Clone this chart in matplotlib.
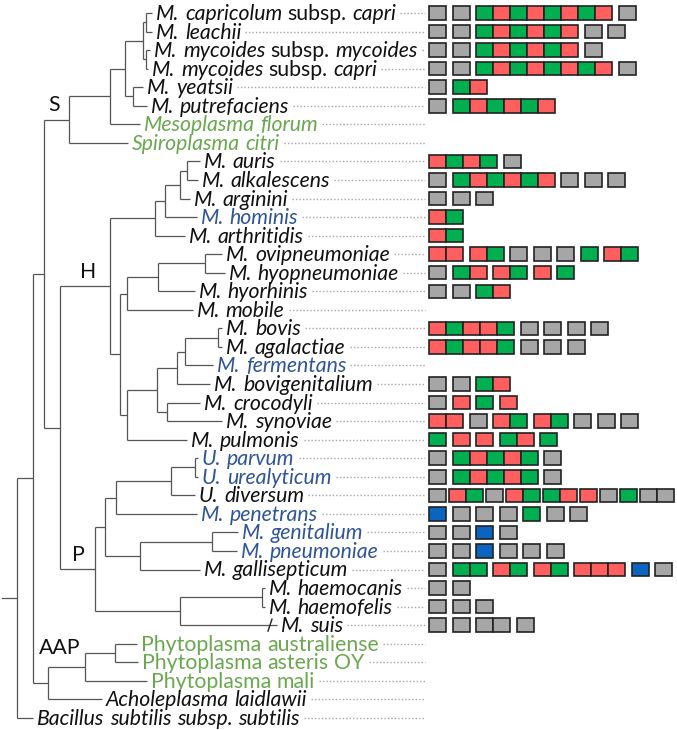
"""
Phylogenetic tree of mollicutes with gene-cluster boxes drawn next to each taxon.
"""

import matplotlib
matplotlib.use('Agg')
import matplotlib.pyplot as plt
from matplotlib.patches import Rectangle

# Taxa, top to bottom. Words inside {} are upright, the rest italic.
taxa = [
    "M. capricolum {subsp.} capri", "M. leachii", "M. mycoides {subsp.} mycoides",
    "M. mycoides {subsp.} capri", "M. yeatsii", "M. putrefaciens", "Mesoplasma florum",
    "Spiroplasma citri", "M. auris", "M. alkalescens", "M. arginini", "M. hominis",
    "M. arthritidis", "M. ovipneumoniae", "M. hyopneumoniae", "M. hyorhinis", "M. mobile",
    "M. bovis", "M. agalactiae", "M. fermentans", "M. bovigenitalium", "M. crocodyli",
    "M. synoviae", "M. pulmonis", "U. parvum", "U. urealyticum", "U. diversum",
    "M. penetrans", "M. genitalium", "M. pneumoniae", "M. gallisepticum", "M. haemocanis",
    "M. haemofelis", "M. suis", "{Phytoplasma australiense}", "{Phytoplasma asteris OY}",
    "{Phytoplasma mali}", "Acholeplasma laidlawii", "Bacillus subtilis subsp. subtilis",
]

# label colour group: k = black, g = green, b = blue
taxa_colour = list("kkkkkkggkkkbkkkkkkkbkkkkbbkbbbkkkkgggkk")

# tip depth of each leaf branch
tip_x = [152, 152, 150, 148, 143, 147, 140, 128, 200, 198, 190, 197, 185, 222, 225, 195,
         193, 222, 222, 213, 210, 200, 222, 187, 198, 198, 195, 197, 238, 237, 200, 265,
         265, 277, 137, 138, 147, 102, 33]

# topology: (node depth, child, child); ints are leaf indices
tree = (17,
        (33,
         (44,
          (69,
           (110,
            (125,
             (143, (146, 0, 1), (146, 2, 3)),
             (133, 4, 5)),
            6),
           7),
          (60,
           (110,
            (155, (165, (180, (187, 8, 9), 10), 11), 12),
            (120,
             (127, (158, (205, 13, 14), 15), 16),
             (127, (157, (177, (185, (218, 17, 18), 19), 20), (167, 21, 22)), 23))),
           (95,
            (105,
             (116, (171, (195, 24, 25), 26), 27),
             (140, (212, 28, 29), 30)),
            (180, (262, 31, 32), 33)))),
         (48, (85, (115, 34, 35), 36), 37)),
        38)

# clade labels
clades = ["S", "H", "P", "AAP"]
clade_pos = [(54, 105), (88, 272), (78, 555), (60, 648)]

# boxes per taxon: Y gray, G green, R red, B blue; space separates groups
boxes = [
    "Y Y GRGRGRGR Y", "Y Y GRGRGR Y Y", "Y Y GRGRGR Y", "Y Y GRGRGRGR Y", "Y GR",
    "Y GRGRGR", "", "", "RGRG Y", "Y GRGRGR Y Y Y", "Y Y Y", "RG", "RG",
    "RR RG Y Y Y G RG", "Y GR RG R G", "Y Y GR", "", "RGRRG Y Y Y Y", "RGRRG Y Y Y", "",
    "Y Y GR", "Y R G R", "RR Y RG RG Y Y Y", "G R R GR G", "Y GRGRG Y", "Y GRGRG Y",
    "Y RG Y RG GR R Y G YY", "B Y Y Y G Y Y", "Y Y B Y", "Y Y B Y Y Y",
    "Y GG RG RG RRR B Y", "Y Y", "Y Y Y", "Y Y YY Y", "", "", "", "", "",
]

text_colours = {'k': '#111111', 'g': '#6aa84f', 'b': '#2f5597'}
box_colours = {'Y': '#a6a6a6', 'G': '#00b050', 'R': '#ff5f5f', 'B': '#0a64c0'}

ROW0, ROWSTEP = 13, 18.55
FONT = ['Lato', 'DejaVu Sans']
FS = 15.3
LINE = '#555555'


def row_y(i):
    return ROW0 + i * ROWSTEP


def draw_node(ax, node):
    """Draw a subtree and return the y of its root."""
    if isinstance(node, int):
        return row_y(node)
    x, left, right = node
    ys = []
    for child in (left, right):
        cy = draw_node(ax, child)
        cx = tip_x[child] if isinstance(child, int) else child[0]
        ax.plot([x, cx], [cy, cy], color=LINE, lw=0.9, solid_capstyle='butt')
        ys.append(cy)
    ax.plot([x, x], ys, color=LINE, lw=0.9, solid_capstyle='butt')
    return (ys[0] + ys[1]) / 2


def draw_label(ax, renderer, x, y, label, colour):
    """Write a label word by word, switching italic off inside {}; returns end x."""
    probe = ax.text(0, 0, "a a", fontsize=FS, family=FONT)
    probe2 = ax.text(0, 0, "aa", fontsize=FS, family=FONT)
    space = (probe.get_window_extent(renderer).width
             - probe2.get_window_extent(renderer).width)
    probe.remove()
    probe2.remove()

    upright = False
    for word in label.split(' '):
        if word.startswith('{'):
            upright = True
            word = word[1:]
        closing = word.endswith('}')
        if closing:
            word = word[:-1]
        t = ax.text(x, y, word, fontsize=FS, family=FONT, color=colour,
                    style='normal' if upright else 'italic', va='center', ha='left')
        x += t.get_window_extent(renderer).width + space
        if closing:
            upright = False
    return x - space


def main():
    fig = plt.figure(figsize=(6.77, 7.30), dpi=100)
    ax = fig.add_axes([0, 0, 1, 1])
    ax.set_xlim(0, 677)
    ax.set_ylim(730, 0)
    ax.axis('off')
    renderer = fig.canvas.get_renderer()

    # tree
    root_y = draw_node(ax, tree)
    ax.plot([2, tree[0]], [root_y, root_y], color=LINE, lw=0.9)
    # break mark on the M. suis branch
    sy = row_y(33)
    ax.plot([268, 272], [sy + 6, sy - 6], color='#222222', lw=1)

    for name, pos in zip(clades, clade_pos):
        ax.text(pos[0], pos[1], name, fontsize=FS, family=FONT, color='#111111',
                ha='center', va='center')

    # labels, leader dots and boxes
    w, h, gap = 17, 13.5, 6.5
    for i, name in enumerate(taxa):
        y = row_y(i)
        end = draw_label(ax, renderer, tip_x[i] + 4, y + 1, name,
                         text_colours[taxa_colour[i]])
        ax.plot([end + 4, 425], [y, y], color='#a8a8a8', lw=1,
                linestyle=(0, (1, 1.5)))

        g = 3 if name == "U. diversum" else gap
        x = 429
        for group in boxes[i].split():
            for c in group:
                ax.add_patch(Rectangle((x, y - h / 2), w, h, facecolor=box_colours[c],
                                       edgecolor='#222222', lw=1.2))
                x += w
            x += g

    fig.savefig('out.png', dpi=100)


if __name__ == '__main__':
    main()
